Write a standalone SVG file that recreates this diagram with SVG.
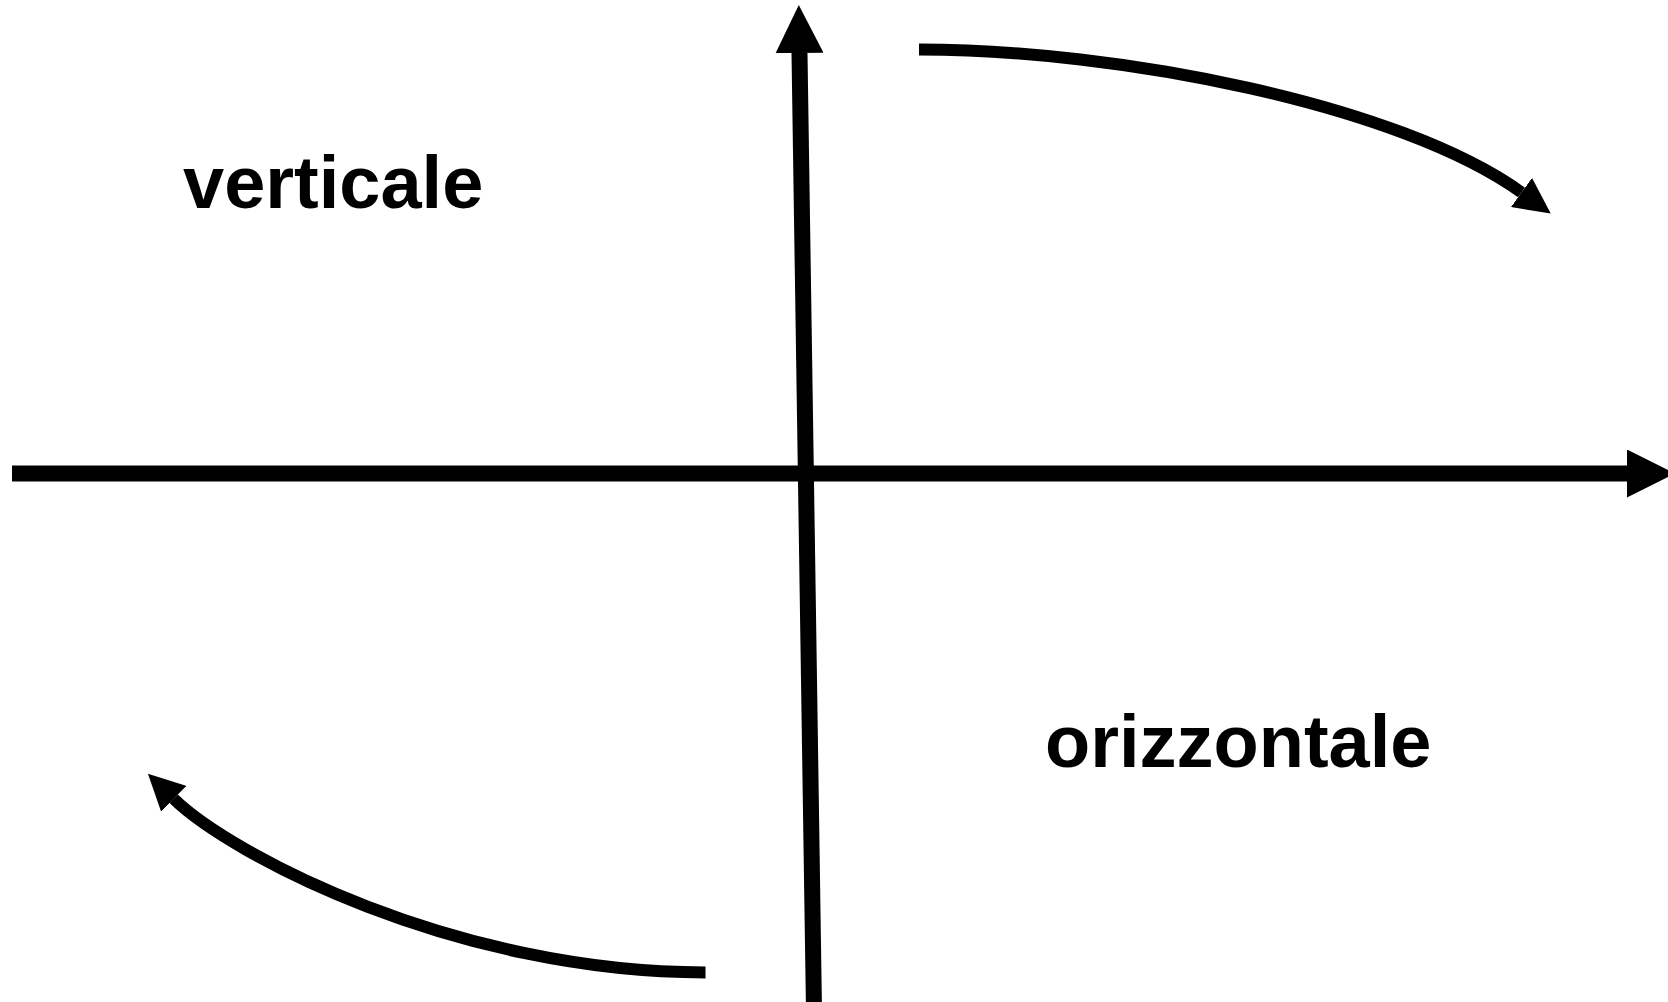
<svg xmlns="http://www.w3.org/2000/svg" width="1668" height="1002" viewBox="0 0 1668 1002">
<style>
.ax{fill:none;stroke:#000;stroke-width:16;marker-end:url(#ah)}
.cv{fill:none;stroke:#000;stroke-width:12;marker-end:url(#ah)}
.lbl{font-family:"Liberation Sans",Arial,sans-serif;font-weight:bold;font-size:74px;fill:#000}
</style>
<defs>
<marker id="ah" viewBox="0 0 10 10" refX="0" refY="5" markerWidth="3" markerHeight="3" orient="auto" markerUnits="strokeWidth">
<path d="M0,0 L10,5 L0,10 z" fill="#000"/>
</marker>
</defs>
<rect width="1668" height="1002" fill="#fff"/>
<g id="connectors">
<path class="ax" d="M12,473.5 L1627,473.5"/>
<path class="ax" d="M814,1010 L799.5,53"/>
<path class="cv" d="M919,49.5 C1119,49.5 1399.7,104.9 1521.5,192.5"/>
<path class="cv" d="M705.5,972.5 C455.5,972.5 230.9,854.6 173.7,798.8"/>
</g>
<g id="verticale"><text class="lbl" x="183" y="208">verticale</text></g>
<g id="orizzontale"><text class="lbl" x="1045" y="767">orizzontale</text></g>
</svg>
